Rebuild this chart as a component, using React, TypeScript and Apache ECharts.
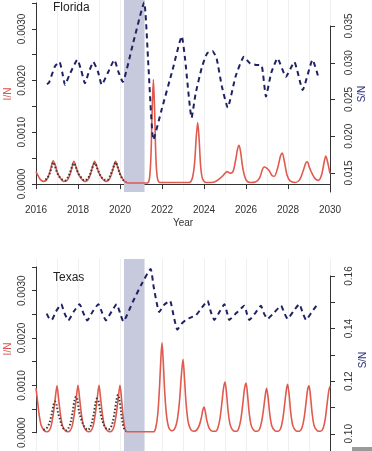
import React, { useEffect, useRef } from "react";
import * as echarts from "echarts";

const xMin = 2016;
const xMax = 2030;
const shadeStart = 2020.19;
const shadeEnd = 2021.17;

const iTickLabels = [0, 0.001, 0.002, 0.003];
const flSTicks = [0.015, 0.02, 0.025, 0.03, 0.035];
const txSTicks = [0.1, 0.11, 0.12, 0.13, 0.14, 0.15, 0.16];
const txSLabels = [0.1, 0.12, 0.14, 0.16];

// Florida model I/N (red)
const flModelI: [number, number][] = [
  [2016.0, 0.00024], [2016.1, 0.00016], [2016.2, 0.00009], [2016.35, 0.00005], [2016.5, 0.00008],
  [2016.62, 0.00018], [2016.72, 0.00032], [2016.82, 0.00045], [2016.92, 0.00036], [2017.02, 0.00022],
  [2017.15, 0.00012], [2017.3, 0.00005], [2017.45, 0.00006], [2017.58, 0.00014], [2017.7, 0.0003],
  [2017.8, 0.00044], [2017.9, 0.00034], [2018.0, 0.00021], [2018.15, 0.00011], [2018.3, 0.00005],
  [2018.45, 0.00007], [2018.57, 0.00016], [2018.68, 0.00031], [2018.79, 0.00044], [2018.89, 0.00034],
  [2019.0, 0.00021], [2019.15, 0.00011], [2019.3, 0.00005], [2019.45, 0.00007], [2019.57, 0.00016],
  [2019.68, 0.00031], [2019.79, 0.00044], [2019.89, 0.00033], [2020.0, 0.0002], [2020.12, 0.0001],
  [2020.25, 0.00004], [2020.4, 0.00002], [2021.3, 0.00002], [2021.4, 0.0001], [2021.47, 0.0005],
  [2021.53, 0.0014], [2021.59, 0.00202], [2021.65, 0.0014], [2021.71, 0.0005], [2021.78, 0.00012],
  [2021.9, 0.00003], [2023.3, 0.00003], [2023.45, 0.00012], [2023.55, 0.0004], [2023.63, 0.0009],
  [2023.7, 0.00119], [2023.77, 0.00085], [2023.84, 0.00035], [2023.93, 0.0001], [2024.1, 0.00003],
  [2024.5, 0.00004], [2024.7, 0.00009], [2024.9, 0.00016], [2025.1, 0.00024], [2025.25, 0.00021],
  [2025.38, 0.00024], [2025.5, 0.00045], [2025.6, 0.00068], [2025.67, 0.00075], [2025.75, 0.0006],
  [2025.85, 0.0003], [2026.0, 0.00008], [2026.2, 0.00003], [2026.45, 0.00004], [2026.65, 0.00012],
  [2026.8, 0.0003], [2026.88, 0.00033], [2027.0, 0.0003], [2027.1, 0.00026], [2027.25, 0.00016],
  [2027.35, 0.00015], [2027.5, 0.0003], [2027.65, 0.00055], [2027.73, 0.0006], [2027.82, 0.00045],
  [2027.95, 0.00018], [2028.1, 0.00006], [2028.35, 0.00003], [2028.55, 0.00008], [2028.72, 0.00025],
  [2028.85, 0.00041], [2028.92, 0.00043], [2029.02, 0.00032], [2029.15, 0.0002], [2029.3, 0.0001],
  [2029.45, 0.00007], [2029.6, 0.00018], [2029.72, 0.00042], [2029.8, 0.00054], [2029.9, 0.0004],
  [2030.0, 0.0002],
];

// Florida observed I/N (black dots)
const flObsI: [number, number][] = [
  [2016.45, 0.00008], [2016.55, 0.00012], [2016.65, 0.0002], [2016.75, 0.00033], [2016.82, 0.00042],
  [2016.88, 0.00038], [2016.95, 0.00028], [2017.05, 0.00018], [2017.15, 0.00012], [2017.28, 0.00008],
  [2017.4, 0.00007], [2017.52, 0.00013], [2017.62, 0.00022], [2017.72, 0.00034], [2017.8, 0.0004],
  [2017.87, 0.00036], [2017.95, 0.00027], [2018.05, 0.00018], [2018.18, 0.00011], [2018.3, 0.00007],
  [2018.42, 0.00009], [2018.55, 0.00016], [2018.65, 0.00028], [2018.75, 0.00038], [2018.82, 0.0004],
  [2018.9, 0.00032], [2019.0, 0.00022], [2019.12, 0.00013], [2019.25, 0.00008], [2019.4, 0.00008],
  [2019.52, 0.00015], [2019.63, 0.00026], [2019.72, 0.00036], [2019.8, 0.00042], [2019.88, 0.00034],
  [2019.97, 0.00022], [2020.07, 0.00013], [2020.17, 0.00007], [2020.3, 0.00004],
];

// Florida model S/N (blue dashed)
const flModelS: [number, number][] = [
  [2016.52, 0.0271], [2016.62, 0.0273], [2016.9, 0.0295], [2017.12, 0.0301], [2017.25, 0.0287],
  [2017.38, 0.027], [2017.6, 0.0284], [2017.97, 0.0304], [2018.15, 0.029], [2018.33, 0.0272],
  [2018.5, 0.0286], [2018.73, 0.0301], [2018.95, 0.0288], [2019.13, 0.027], [2019.45, 0.0288],
  [2019.73, 0.0304], [2019.92, 0.0288], [2020.13, 0.0274], [2020.6, 0.0324], [2021.15, 0.0382],
  [2021.35, 0.0297], [2021.59, 0.0195], [2022.0, 0.0238], [2022.5, 0.029], [2022.94, 0.0336],
  [2023.1, 0.0305], [2023.41, 0.0225], [2023.6, 0.0258], [2023.9, 0.0294], [2024.15, 0.0313],
  [2024.4, 0.0316], [2024.6, 0.0306], [2024.85, 0.0268], [2025.13, 0.0239], [2025.5, 0.0281],
  [2025.9, 0.0308], [2026.2, 0.0299], [2026.48, 0.0297], [2026.75, 0.0296], [2026.95, 0.0254],
  [2027.2, 0.0286], [2027.5, 0.0306], [2027.9, 0.0281], [2028.3, 0.0301], [2028.7, 0.0263],
  [2029.17, 0.0304], [2029.46, 0.0279],
];

// Texas model I/N (red)
const txModelI: [number, number][] = [
  [2016.0, 0.00094], [2016.07, 0.00068], [2016.15, 0.00038], [2016.25, 0.00015], [2016.38, 0.00005],
  [2016.52, 0.00002], [2016.62, 0.00004], [2016.72, 0.00014], [2016.82, 0.00038], [2016.91, 0.0007],
  [2017.0, 0.00099], [2017.08, 0.0007], [2017.16, 0.0004], [2017.26, 0.00015], [2017.4, 0.00004],
  [2017.52, 0.00002], [2017.62, 0.00004], [2017.72, 0.00014], [2017.82, 0.00038], [2017.91, 0.0007],
  [2018.0, 0.001], [2018.08, 0.00071], [2018.16, 0.0004], [2018.26, 0.00015], [2018.4, 0.00004],
  [2018.52, 0.00002], [2018.62, 0.00004], [2018.72, 0.00014], [2018.82, 0.00038], [2018.91, 0.0007],
  [2019.0, 0.001], [2019.08, 0.00071], [2019.16, 0.0004], [2019.26, 0.00015], [2019.4, 0.00004],
  [2019.52, 0.00002], [2019.62, 0.00004], [2019.72, 0.00014], [2019.82, 0.00038], [2019.91, 0.0007],
  [2020.0, 0.001], [2020.08, 0.00068], [2020.16, 0.0003], [2020.24, 0.00008], [2020.32, 0.00002],
  [2021.6, 0.00002], [2021.7, 0.0001], [2021.8, 0.0004], [2021.88, 0.00095], [2021.95, 0.0016],
  [2022.0, 0.0019], [2022.06, 0.0015], [2022.13, 0.00085], [2022.22, 0.00035], [2022.33, 0.0001],
  [2022.48, 0.00004], [2022.6, 0.00008], [2022.72, 0.00025], [2022.83, 0.00065], [2022.92, 0.0012],
  [2023.0, 0.00155], [2023.07, 0.00115], [2023.15, 0.0006], [2023.25, 0.00022], [2023.38, 0.00006],
  [2023.52, 0.00003], [2023.66, 0.00006], [2023.78, 0.00016], [2023.88, 0.00033], [2023.95, 0.00049],
  [2024.0, 0.00054], [2024.06, 0.00045], [2024.14, 0.00025], [2024.25, 0.00009], [2024.4, 0.00003],
  [2024.55, 0.00003], [2024.66, 0.0001], [2024.76, 0.0003], [2024.85, 0.00062], [2024.93, 0.00094],
  [2025.0, 0.00107], [2025.07, 0.00085], [2025.15, 0.00045], [2025.25, 0.00016], [2025.4, 0.00004],
  [2025.55, 0.00003], [2025.66, 0.0001], [2025.76, 0.0003], [2025.85, 0.00062], [2025.93, 0.00093],
  [2026.0, 0.00105], [2026.07, 0.00082], [2026.15, 0.00043], [2026.25, 0.00015], [2026.4, 0.00004],
  [2026.55, 0.00003], [2026.66, 0.00009], [2026.76, 0.00027], [2026.85, 0.00055], [2026.93, 0.00083],
  [2026.98, 0.00094], [2027.05, 0.00075], [2027.13, 0.0004], [2027.23, 0.00014], [2027.38, 0.00004],
  [2027.53, 0.00003], [2027.65, 0.00009], [2027.75, 0.00028], [2027.84, 0.0006], [2027.92, 0.0009],
  [2027.98, 0.00102], [2028.05, 0.00082], [2028.13, 0.00043], [2028.23, 0.00015], [2028.38, 0.00004],
  [2028.53, 0.00003], [2028.66, 0.0001], [2028.76, 0.00029], [2028.85, 0.0006], [2028.93, 0.0009],
  [2029.0, 0.00099], [2029.07, 0.00078], [2029.15, 0.00041], [2029.25, 0.00014], [2029.4, 0.00004],
  [2029.55, 0.00003], [2029.67, 0.00009], [2029.77, 0.00028], [2029.86, 0.0006], [2029.94, 0.00088],
  [2030.0, 0.00098],
];

// Texas observed I/N (black dots)
const txObsI: [number, number][] = [
  [2016.35, 0.00006], [2016.45, 0.00008], [2016.55, 0.00012], [2016.65, 0.00022], [2016.75, 0.0004],
  [2016.83, 0.00058], [2016.9, 0.00066], [2016.97, 0.0006], [2017.05, 0.00042], [2017.13, 0.0003],
  [2017.22, 0.00016], [2017.32, 0.00008], [2017.45, 0.00005], [2017.55, 0.0001], [2017.65, 0.00022],
  [2017.75, 0.00045], [2017.83, 0.00068], [2017.9, 0.00076], [2017.97, 0.0007], [2018.05, 0.00045],
  [2018.13, 0.00032], [2018.22, 0.0002], [2018.32, 0.00012], [2018.45, 0.00006], [2018.55, 0.00009],
  [2018.65, 0.0002], [2018.75, 0.0004], [2018.83, 0.00062], [2018.9, 0.00072], [2018.97, 0.00068],
  [2019.05, 0.00048], [2019.13, 0.0003], [2019.22, 0.00018], [2019.32, 0.0001], [2019.45, 0.00007],
  [2019.55, 0.0001], [2019.65, 0.00022], [2019.75, 0.00045], [2019.83, 0.00068], [2019.9, 0.0008],
  [2019.97, 0.0007], [2020.05, 0.00045], [2020.12, 0.00022], [2020.2, 0.00008], [2020.28, 0.00003],
];

// Texas model S/N (blue dashed)
const txModelS: [number, number][] = [
  [2016.51, 0.1457], [2016.62, 0.144], [2016.75, 0.1433], [2016.95, 0.1465], [2017.2, 0.1493],
  [2017.35, 0.146], [2017.54, 0.1431], [2017.8, 0.1465], [2018.08, 0.1493], [2018.25, 0.146],
  [2018.44, 0.1431], [2018.7, 0.1465], [2018.97, 0.1493], [2019.15, 0.146], [2019.33, 0.1431],
  [2019.6, 0.1465], [2019.84, 0.1493], [2020.0, 0.146], [2020.16, 0.1427], [2020.6, 0.15],
  [2021.0, 0.1565], [2021.46, 0.1627], [2021.6, 0.156], [2021.87, 0.1463], [2022.1, 0.149],
  [2022.38, 0.1506], [2022.55, 0.145], [2022.73, 0.1396], [2022.95, 0.142], [2023.14, 0.1433],
  [2023.3, 0.144], [2023.62, 0.1451], [2023.9, 0.148], [2024.17, 0.1506], [2024.32, 0.1465],
  [2024.49, 0.1433], [2024.75, 0.1465], [2024.97, 0.1493], [2025.1, 0.146], [2025.2, 0.1433],
  [2025.55, 0.146], [2025.92, 0.1487], [2026.05, 0.1455], [2026.16, 0.1433], [2026.45, 0.146],
  [2026.71, 0.1487], [2026.87, 0.1455], [2027.03, 0.1437], [2027.35, 0.1462], [2027.67, 0.1487],
  [2027.82, 0.146], [2027.98, 0.1437], [2028.25, 0.1465], [2028.54, 0.1493], [2028.7, 0.146],
  [2028.86, 0.1433], [2029.15, 0.1465], [2029.41, 0.1493],
];

const RED = "#e05a4e";
const NAVY = "#1e2262";
const DOT = "#3a3a3a";
const SHADE = "#c7cadd";
const AXIS = "#333333";
const FONT = "'Liberation Sans', Arial, sans-serif";

export default function App() {
  const ref = useRef<HTMLDivElement>(null);

  useEffect(() => {
    if (!ref.current) return;
    const chart = echarts.init(ref.current, null, { renderer: "svg" });

    const L = 36;
    const W = 294;
    const grids = [
      { left: L, width: W, top: 0, height: 192 },
      { left: L, width: W, top: 3, height: 181 },
      { left: L, width: W, top: 26, height: 166 },
      { left: L, width: W, top: 259, height: 200 },
      { left: L, width: W, top: 267, height: 182 },
      { left: L, width: W, top: 276, height: 183 },
    ];

    const hiddenX = (g: number, split = false) => ({
      type: "value",
      gridIndex: g,
      min: xMin,
      max: xMax,
      interval: 1,
      axisLine: { show: false },
      axisTick: { show: false },
      axisLabel: { show: false },
      splitLine: { show: split, lineStyle: { color: "#efefef", width: 1 } },
    });

    const xAxes = [
      hiddenX(0, true),
      {
        type: "value",
        gridIndex: 1,
        min: xMin,
        max: xMax,
        interval: 2,
        offset: 8,
        axisLine: { show: true, lineStyle: { color: AXIS, width: 1 } },
        axisTick: { show: true, length: 5, lineStyle: { color: AXIS } },
        axisLabel: {
          fontSize: 10,
          color: AXIS,
          margin: 12,
          fontFamily: FONT,
          formatter: (v: number) => String(Math.round(v)),
        },
        splitLine: { show: false },
      },
      hiddenX(2),
      hiddenX(3, true),
      hiddenX(4),
      hiddenX(5),
    ];

    const iAxis = (g: number) => ({
      type: "value",
      gridIndex: g,
      position: "left",
      min: 0,
      max: 0.0035,
      interval: 0.0005,
      axisLine: { show: true, lineStyle: { color: AXIS, width: 1 } },
      axisTick: { show: true, length: 4, lineStyle: { color: AXIS } },
      axisLabel: {
        rotate: 90,
        fontSize: 10,
        color: AXIS,
        margin: 10,
        fontFamily: FONT,
        formatter: (v: number) => {
          const k = Math.round(v * 10000);
          return iTickLabels.some((t) => Math.round(t * 10000) === k) ? (k / 10000).toFixed(4) : "";
        },
      },
      splitLine: { show: false },
    });

    const sAxis = (g: number, min: number, max: number, ticks: number[], labels: number[], digits: number) => ({
      type: "value",
      gridIndex: g,
      position: "right",
      min,
      max,
      axisLine: { show: true, lineStyle: { color: AXIS, width: 1 } },
      axisTick: { show: true, length: 5, customValues: ticks, lineStyle: { color: AXIS } },
      axisLabel: {
        rotate: 90,
        fontSize: 10,
        color: AXIS,
        margin: 13,
        fontFamily: FONT,
        customValues: labels,
        formatter: (v: number) => v.toFixed(digits),
      },
      splitLine: { show: false },
    });

    const yAxes = [
      { type: "value", gridIndex: 0, min: 0, max: 1, show: false },
      iAxis(1),
      sAxis(2, 0.012415, 0.035, flSTicks, flSTicks, 3),
      { type: "value", gridIndex: 3, min: 0, max: 1, show: false },
      iAxis(4),
      sAxis(5, 0.09345, 0.16, txSTicks, txSLabels, 2),
    ];

    const shade = (g: number) => ({
      type: "line",
      xAxisIndex: g,
      yAxisIndex: g,
      z: 1,
      data: [[xMin, -1]],
      showSymbol: false,
      lineStyle: { width: 0 },
      silent: true,
      markArea: {
        silent: true,
        itemStyle: { color: SHADE },
        data: [[{ xAxis: shadeStart }, { xAxis: shadeEnd }]],
      },
    });

    const redLine = (g: number, data: [number, number][]) => ({
      type: "line",
      xAxisIndex: g,
      yAxisIndex: g,
      z: 3,
      data,
      showSymbol: false,
      smooth: 0.3,
      lineStyle: { color: RED, width: 1.6 },
    });

    const obsLine = (g: number, data: [number, number][]) => ({
      type: "line",
      xAxisIndex: g,
      yAxisIndex: g,
      z: 4,
      data,
      showSymbol: false,
      smooth: 0.3,
      lineStyle: { color: DOT, width: 2, type: [1.5, 2] },
    });

    const sLine = (g: number, data: [number, number][]) => ({
      type: "line",
      xAxisIndex: g,
      yAxisIndex: g,
      z: 5,
      clip: false,
      data,
      showSymbol: false,
      smooth: 0.15,
      lineStyle: { color: NAVY, width: 2, type: [5, 4] },
    });

    const txt = (text: string, x: number, y: number, color: string, size: number, rot = 0, align = "center") => ({
      type: "text",
      x,
      y,
      rotation: rot,
      z: 10,
      style: {
        text,
        fill: color,
        fontSize: size,
        fontFamily: FONT,
        align,
        verticalAlign: "middle",
      },
    });

    chart.setOption({
      animation: false,
      grid: grids,
      xAxis: xAxes,
      yAxis: yAxes,
      series: [
        shade(0),
        shade(3),
        redLine(1, flModelI),
        obsLine(1, flObsI),
        sLine(2, flModelS),
        redLine(4, txModelI),
        obsLine(4, txObsI),
        sLine(5, txModelS),
      ],
      graphic: [
        txt("Florida", 53, 7, "#222", 12, 0, "left"),
        txt("Texas", 53, 277, "#222", 12, 0, "left"),
        txt("Year", 183, 222, AXIS, 10),
        txt("I/N", 7, 94, "#d9534f", 10, Math.PI / 2),
        txt("S/N", 361, 94, "#2b2f7a", 10, Math.PI / 2),
        txt("I/N", 7, 349, "#d9534f", 10, Math.PI / 2),
        txt("S/N", 362, 360, "#2b2f7a", 10, Math.PI / 2),
        { type: "rect", shape: { x: 352, y: 447, width: 20, height: 4 }, style: { fill: "#9a9a9a" } },
      ],
    });

    return () => chart.dispose();
  }, []);

  return <div ref={ref} style={{ position: "fixed", left: 0, top: 0, width: 372, height: 451 }} />;
}
